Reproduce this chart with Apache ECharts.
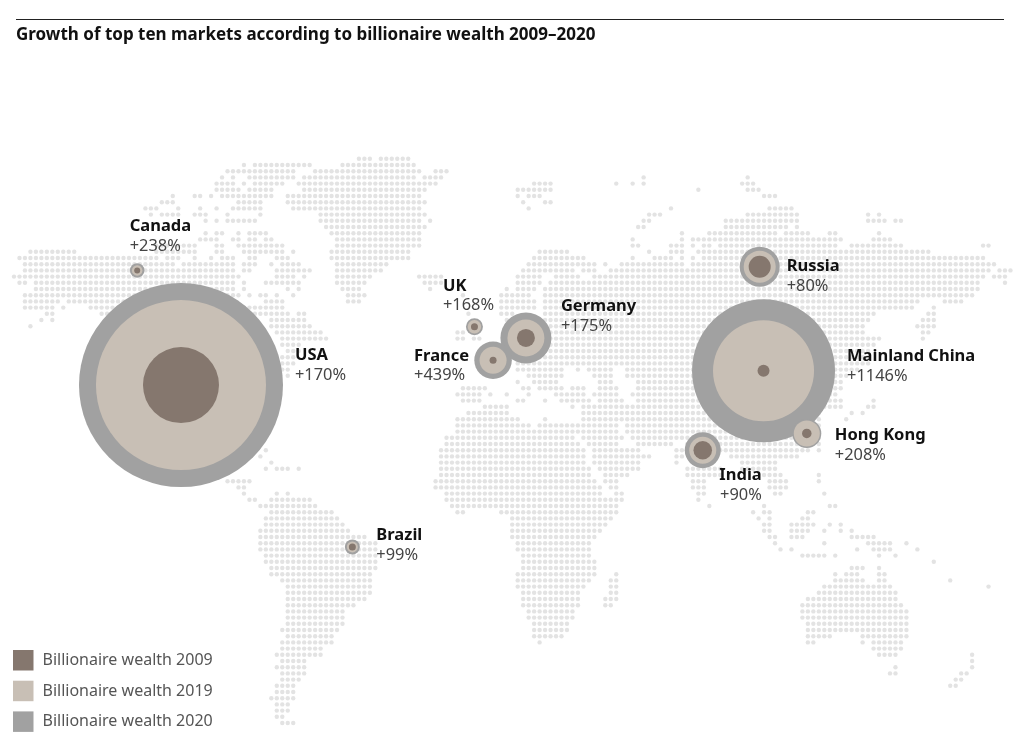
<!DOCTYPE html>
<html><head><meta charset="utf-8">
<style>html,body{margin:0;padding:0;background:#fff}#c{width:1023px;height:749px}</style>
<script src="https://cdn.jsdelivr.net/npm/echarts@6/dist/echarts.min.js"></script>
</head><body><div id="c"></div>
<script>
const chartTitle = 'Growth of top ten markets according to billionaire wealth 2009\u20132020';
const seriesNames = ['Billionaire wealth 2009','Billionaire wealth 2019','Billionaire wealth 2020'];
const markets = ['USA','Canada','UK','Germany','France','Russia','Mainland China','Hong Kong','India','Brazil'];
const growth  = ['+170%','+238%','+168%','+175%','+439%','+80%','+1146%','+208%','+90%','+99%'];
const wealth2009 = [76,6,7,18,7,22,12,9.5,18.5,7];
const wealth2019 = [170,10.5,13.5,37,27,32,101,26,27,11];
const wealth2020 = [204,14.5,17,51,37.5,40,143,29,36,15];
// market location on the dot-map grid: column, row
const marketCol = [30.5,22.5,84.1,93.5,87.5,136.2,136.9,144.8,125.8,61.8];
const marketRow = [36.5,18,27.1,28.9,32.5,17.4,34.2,44.3,47,62.6];
// land dots: row number, then start,end pairs of columns
const landRuns = [
[0,63,65,67,72],
[1,42,42,44,54,60,73],
[2,39,51,55,74,77,79],
[3,38,38,40,40,43,51,53,73,75,78,115,115,134,134],
[4,37,40,42,42,44,49,52,77,95,98,110,110,113,113,115,115,133,135],
[5,37,41,43,47,53,75,92,98,125,125,134,136],
[6,29,29,33,34,36,36,38,47,50,74,92,92,94,96,137,139],
[7,27,29,41,45,50,75,93,93,97,98],
[8,24,26,30,30,34,34,37,37,40,45,51,74,94,94,120,120,138,142],
[9,25,25,27,30,33,35,39,39,45,45,56,75,116,118,134,143,156,156,158,158],
[10,35,35,37,37,39,44,56,74,76,76,115,116,130,143,156,159,161,162],
[11,57,75,114,115,130,141,143,143],
[12,35,35,37,38,41,41,43,46,58,74,122,122,127,139,141,145,149,150,158,158],
[13,34,37,40,41,43,44,46,47,59,74,113,113,122,122,124,151,157,160],
[14,26,33,37,38,41,49,59,74,113,114,120,122,124,124,126,127,129,150,153,162,177,178],
[15,3,11,26,33,37,38,42,49,51,51,58,72,96,101,116,116,120,122,125,167],
[16,1,26,28,30,33,33,36,36,38,40,43,44,48,50,58,72,95,104,113,113,117,120,122,122,124,124,126,177],
[17,2,29,31,40,42,44,47,47,49,52,59,68,94,106,108,108,111,122,124,179],
[18,2,40,42,43,48,54,59,67,93,102,104,106,109,178,180,182],
[19,0,41,48,51,53,53,59,65,74,78,92,96,99,103,106,177,179,181],
[20,1,2,4,40,42,42,46,52,59,64,75,78,92,96,98,176,181,181],
[21,4,40,42,42,50,50,52,52,60,63,76,76,90,90,92,95,97,176],
[22,2,41,43,43,45,46,48,48,51,51,61,64,82,82,89,94,97,175],
[23,2,8,10,40,46,49,61,63,89,95,97,165,170,173],
[24,2,7,9,9,14,49,89,95,97,164,168,168],
[25,6,7,16,50,52,53,83,83,89,91,97,157,167,168],
[26,5,5,7,7,47,53,90,156,166,168],
[27,3,3,47,54,90,155,165,168],
[28,48,56,81,82,90,155,166,167],
[29,49,57,81,82,84,85,90,158,166,166],
[30,49,52,90,157],
[31,50,52,90,156],
[32,49,51,91,156],
[33,49,51,92,156],
[34,49,50,92,100,103,103,105,109,112,154],
[35,50,50,94,100,106,109,112,152],
[36,92,92,95,99,107,109,114,151],
[37,82,86,93,94,96,100,102,104,107,110,114,151],
[38,81,85,87,87,90,90,94,94,99,104,106,110,113,150],
[39,82,85,92,93,97,97,100,105,107,111,114,151,157,157],
[40,86,90,102,102,104,151,156,157],
[41,83,90,104,147,153,153,155,155],
[42,81,92,97,97,104,147,152,152],
[43,81,94,96,110,112,147],
[44,81,110,112,147],
[45,79,102,104,111,113,147],
[46,79,103,105,110,114,120,123,147],
[47,46,46,78,104,106,114,121,122,129,145,147,147],
[48,45,45,78,104,106,116,121,122,131,143],
[49,47,47,78,104,106,114,121,121,133,139],
[50,46,46,48,50,52,52,78,105,107,114,123,129,133,139],
[51,78,105,108,112,123,129,137,140,147,147],
[52,39,43,77,106,108,110,124,126,138,141,147,147],
[53,41,42,77,107,109,110,124,126,138,141],
[54,42,42,48,48,50,50,79,107,110,111,125,126,139,140,148,148],
[55,43,44,47,54,79,111,125,125],
[56,45,55,80,110,127,127,137,137,149,150],
[57,47,58,81,82,89,110,135,135,137,138,145,146],
[58,46,59,91,109,136,136,138,138,144,145],
[59,46,60,91,108,137,138,142,146,149,149,151,151],
[60,45,61,91,107,137,138,142,145,148,148,151,151,153,153],
[61,45,64,91,106,138,139,142,144,153,157],
[62,45,66,92,105,139,139,148,148,156,160,163,163],
[63,45,66,92,105,140,140,142,142,154,154,157,160,165,165],
[64,46,66,93,105,144,148,150,150,158,158,161,161],
[65,46,66,93,106,168,168],
[66,47,66,93,106,153,155,158,158],
[67,47,65,92,106,110,110,150,150,152,154,158,159],
[68,49,65,92,105,109,110,150,155,158,159,171,171],
[69,50,65,92,104,109,110,148,160,178,178],
[70,50,65,93,103,109,110,147,161],
[71,50,64,93,103,108,110,145,161],
[72,50,62,93,103,108,109,144,162],
[73,50,60,94,102,144,163],
[74,50,60,94,102,144,163],
[75,50,60,95,101,145,163],
[76,49,59,95,101,145,163],
[77,50,58,95,100,145,149,155,163],
[78,49,58,96,96,145,146,155,155,157,162],
[79,49,56,157,162],
[80,48,56,158,161,175,175],
[81,49,53,175,175],
[82,48,53,161,161,175,175],
[83,49,53,160,161,173,174],
[84,49,52,172,173],
[85,48,51,171,172],
[86,48,51],
[87,47,51],
[88,48,50],
[89,48,50],
[90,48,49],
[91,49,51]
];

// layout only
const W = 1023, H = 749;
const colStep = 5.475, rowStep = 6.2, colOrigin = 14, rowOrigin = 158.8;
const labelOffset = {
  'USA':[114,-19.5],'Canada':[-7.5,-34.5],'UK':[-31.5,-31],'Germany':[35,-22],'France':[-79,5.5],
  'Russia':[27,9.5],'Mainland China':[83.5,-5],'Hong Kong':[28,12],'India':[59,35.5],'Brazil':[24,-1.5]
};
const colors = {d2009:'#85776e', d2019:'#c8bfb5', d2020:'#a1a1a1', dot:'#e3e3e3'};

const dots = [];
landRuns.forEach(run => {
  for (let i = 1; i < run.length; i += 2)
    for (let c = run[i]; c <= run[i+1]; c++) dots.push([c, run[0]]);
});
const bubble = arr => arr.map((v,i) => ({name:markets[i], value:[marketCol[i], marketRow[i], v]}));

const labelled = bubble(wealth2009).map((d,i) => {
  const rightAligned = d.name === 'India';
  return Object.assign(d, {label:{
    show:true, position:'inside', offset:labelOffset[d.name],
    align: rightAligned ? 'right' : 'left', verticalAlign:'middle',
    formatter:'{n|'+d.name+'}\n{g|'+growth[i]+'}',
    rich:{
      n:{fontFamily:'Noto Sans',fontWeight:'bold',fontSize:16.5,lineHeight:20,color:'#111'},
      g:{fontFamily:'Noto Sans',fontSize:16.4,lineHeight:20,color:'#444'}
    }
  }});
});

const bubbleSeries = (name,data,color,z) => ({
  type:'scatter', name, data, z, silent:true,
  symbol:'circle', symbolSize:v=>v[2],
  itemStyle:{color,opacity:1}, emphasis:{disabled:true}
});

const chart = echarts.init(document.getElementById('c'),null,{renderer:'canvas'});
chart.setOption({
  animation:false,
  backgroundColor:'#fff',
  title:{text:chartTitle,left:16,top:26.5,padding:0,textStyle:{fontFamily:'Noto Sans',fontWeight:'bold',fontSize:17,color:'#111'}},
  grid:{left:0,right:0,top:0,bottom:0},
  xAxis:{type:'value',show:false,min:-colOrigin/colStep,max:(W-colOrigin)/colStep},
  yAxis:{type:'value',show:false,inverse:true,min:-rowOrigin/rowStep,max:(H-rowOrigin)/rowStep},
  legend:{
    orient:'vertical',left:13,top:650,padding:0,itemWidth:20.5,itemHeight:20.5,itemGap:10.2,
    icon:'rect',selectedMode:false,data:seriesNames,
    textStyle:{fontFamily:'Noto Sans',fontSize:16,color:'#555',padding:[0,0,0,4]}
  },
  series:[
    {type:'scatter',name:'Land',data:dots,symbolSize:4.4,silent:true,z:1,itemStyle:{color:colors.dot,opacity:1}},
    bubbleSeries(seriesNames[2],bubble(wealth2020),colors.d2020,2),
    bubbleSeries(seriesNames[1],bubble(wealth2019),colors.d2019,3),
    bubbleSeries(seriesNames[0],labelled,colors.d2009,4)
  ],
  graphic:[{type:'rect',shape:{x:16,y:19,width:988,height:1},style:{fill:'#222'}}]
});
</script></body></html>
